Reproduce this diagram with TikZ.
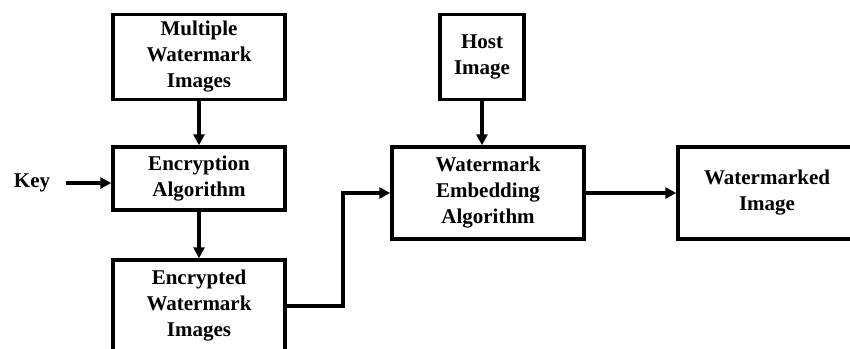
\documentclass[tikz,border=0pt]{standalone}
\usepackage{fontspec}
\setmainfont{Liberation Serif}
\usetikzlibrary{arrows.meta,positioning}
\begin{document}
\begin{tikzpicture}[x=1pt,y=-1pt,
  blk/.style={draw=black,line width=3.5pt,rectangle,align=center,
    inner sep=0pt,font=\fontsize{21}{26}\selectfont\bfseries},
  lbl/.style={align=center,inner sep=0pt,font=\fontsize{21}{26}\selectfont\bfseries},
  flow/.style={line width=3.5pt,-{Triangle[length=11pt,width=11pt]}}]
\useasboundingbox (0,0) rectangle (850,348);
\clip (0,0) rectangle (850,348);
% blocks
\node[blk,minimum width=172pt,minimum height=85pt] (mwi) at (199,57)
  {Multiple\\Watermark\\Images};
\node[blk,minimum width=172pt,minimum height=63pt] (enc) at (199,178.5)
  {Encryption\\Algorithm};
\node[blk,minimum width=172pt,minimum height=92pt] (ewi) at (199,306)
  {Encrypted\\Watermark\\Images};
\node[blk,minimum width=84pt,minimum height=85pt] (host) at (482,57)
  {Host\\Image};
\node[blk,minimum width=192pt,minimum height=92pt] (emb) at (488,193)
  {Watermark\\Embedding\\Algorithm};
\node[blk,minimum width=178pt,minimum height=92pt] (out) at (767,193)
  {Watermarked\\Image};
\node[lbl] (key) at (32,183) {Key};
% connectors
\draw[flow] (mwi.south) -- (enc.north);
\draw[flow] (enc.south) -- (ewi.north);
\draw[flow,shorten <=16pt] (key.east) -- (key -| enc.west);
\draw[flow] (ewi.east) -- ++(56,0) |- (emb.west);
\draw[flow] (host.south) -- (host.south |- emb.north);
\draw[flow] (emb.east) -- (out.west);
\end{tikzpicture}
\end{document}
